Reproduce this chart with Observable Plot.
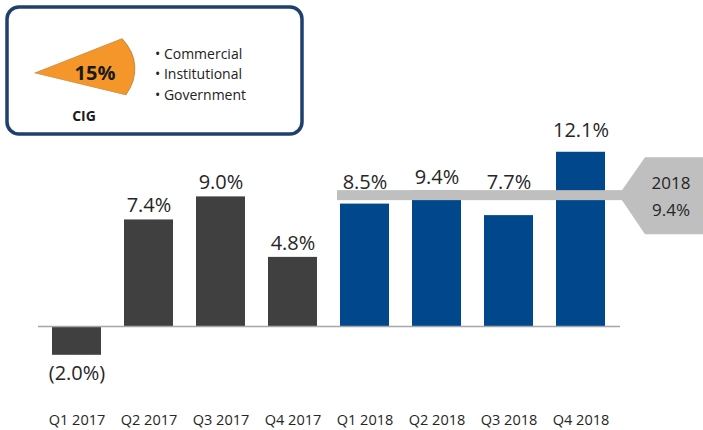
<!DOCTYPE html>
<html><head><meta charset="utf-8">
<script src="https://cdn.jsdelivr.net/npm/d3@7"></script>
<script src="https://cdn.jsdelivr.net/npm/@observablehq/plot@0.6"></script>
<style>
body{margin:0;background:#fff;}
#chart{position:relative;width:703px;height:430px;overflow:hidden;}
</style></head><body><div id="chart"></div>
<script>
const quarters = ["Q1 2017","Q2 2017","Q3 2017","Q4 2017","Q1 2018","Q2 2018","Q3 2018","Q4 2018"];
const growth = [-2.0, 7.4, 9.0, 4.8, 8.5, 9.4, 7.7, 12.1];
const years = ["2017","2017","2017","2017","2018","2018","2018","2018"];
const avgLabel = "2018";
const avgValue = 9.4;
const segmentName = "CIG";
const segmentShare = 15;
const segmentItems = ["Commercial","Institutional","Government"];

const data = quarters.map((q, i) => ({q, v: growth[i], year: years[i]}));
const fmt = v => v < 0 ? `(${Math.abs(v).toFixed(1)}%)` : `${v.toFixed(1)}%`;
const FONT = "'Open Sans', sans-serif";
const TXT = "#262626";
const maxV = d3.max(growth);

function avgCallout(index, {x, y}, values, {width, marginRight}) {
  const g = d3.create("svg:g");
  const yc = y(avgValue) + 4.5;
  const x0 = x("Q1 2018") - 3;
  const tipX = width - marginRight + 2;
  const bodyX = tipX + 23;
  const half = 5;
  g.append("rect").attr("x", x0).attr("y", yc - half).attr("width", tipX - x0 + 1).attr("height", 2 * half).attr("fill", "#bfbfbf");
  g.append("polygon")
    .attr("points", [[tipX, yc - half], [bodyX, yc - 38], [width, yc - 38], [width, yc + 39], [bodyX, yc + 39], [tipX, yc + half]].map(p => p.join(",")).join(" "))
    .attr("fill", "#bfbfbf");
  const cx = bodyX + 26;
  g.append("text").attr("x", cx).attr("y", yc - 13).attr("text-anchor", "middle").attr("dominant-baseline", "central")
    .attr("font-size", 17).attr("fill", TXT).attr("font-family", FONT).text(avgLabel);
  g.append("text").attr("x", cx).attr("y", yc + 14).attr("text-anchor", "middle").attr("dominant-baseline", "central")
    .attr("font-size", 17).attr("fill", TXT).attr("font-family", FONT).text(fmt(avgValue));
  return g.node();
}

const chart = Plot.plot({
  width: 703,
  height: 430,
  marginLeft: 38,
  marginRight: 83,
  marginTop: 124.4,
  marginBottom: 17.6,
  style: {fontFamily: FONT, background: "#fff", color: TXT},
  x: {domain: quarters, paddingInner: 0.314, paddingOuter: 0.15, axis: null},
  y: {domain: [-6, 14], axis: null},
  color: {domain: ["2017", "2018"], range: ["#404040", "#00478c"]},
  marks: [
    Plot.barY(data, {x: "q", y: "v", fill: "year"}),
    Plot.ruleY([0], {stroke: "#a6a6a6", strokeWidth: 1.5}),
    Plot.text(data.filter(d => d.v >= 0 && d.year !== avgLabel), {x: "q", y: "v", text: d => fmt(d.v), dy: -14, fontSize: 20, fill: TXT}),
    Plot.text(data.filter(d => d.year === avgLabel && d.v < maxV), {x: "q", y: d => Math.max(d.v, avgValue - 0.37), text: d => fmt(d.v), dy: -14, fontSize: 20, fill: TXT}),
    Plot.text(data.filter(d => d.v === maxV), {x: "q", y: "v", text: d => fmt(d.v), dy: -22, fontSize: 20, fill: TXT}),
    Plot.text(data.filter(d => d.v < 0), {x: "q", y: "v", text: d => fmt(d.v), dy: 18, fontSize: 20, fill: TXT}),
    avgCallout,
    Plot.axisX({tickSize: 0, tickPadding: 2, fontSize: 14.5, fill: TXT, label: null})
  ]
});

const svg = d3.select(chart);
const leg = svg.append("g").attr("text-anchor", "start");
leg.append("rect").attr("x", 7).attr("y", 7).attr("width", 295).attr("height", 127).attr("rx", 12)
  .attr("fill", "#fff").attr("stroke", "#1f3f6e").attr("stroke-width", 3.5);
const span = segmentShare / 100 * Math.PI;
const arc = d3.arc().innerRadius(0).outerRadius(100).startAngle(Math.PI / 2 - span).endAngle(Math.PI / 2 + span);
leg.append("path").attr("d", arc()).attr("transform", "translate(35,73) rotate(-4) scale(1,0.62)")
  .attr("fill", "#f5962a").attr("stroke", "#c8873a").attr("stroke-width", 1);
leg.append("text").attr("x", 95).attr("y", 72).attr("text-anchor", "middle").attr("dominant-baseline", "central")
  .attr("font-size", 20).attr("font-weight", "bold").attr("fill", "#1a1a1a").attr("font-family", FONT).text(`${segmentShare}%`);
leg.append("text").attr("x", 84).attr("y", 115).attr("text-anchor", "middle").attr("dominant-baseline", "central")
  .attr("font-size", 14).attr("font-weight", "bold").attr("fill", "#1a1a1a").attr("font-family", FONT).text(segmentName);
segmentItems.forEach((s, i) => {
  leg.append("text").attr("x", 155).attr("y", 53 + i * 20.5).attr("text-anchor", "start").attr("dominant-baseline", "central")
    .attr("font-size", 14).attr("fill", "#222").attr("font-family", FONT).text(`\u2022 ${s}`);
});

document.getElementById("chart").append(chart);
</script>
</body></html>
